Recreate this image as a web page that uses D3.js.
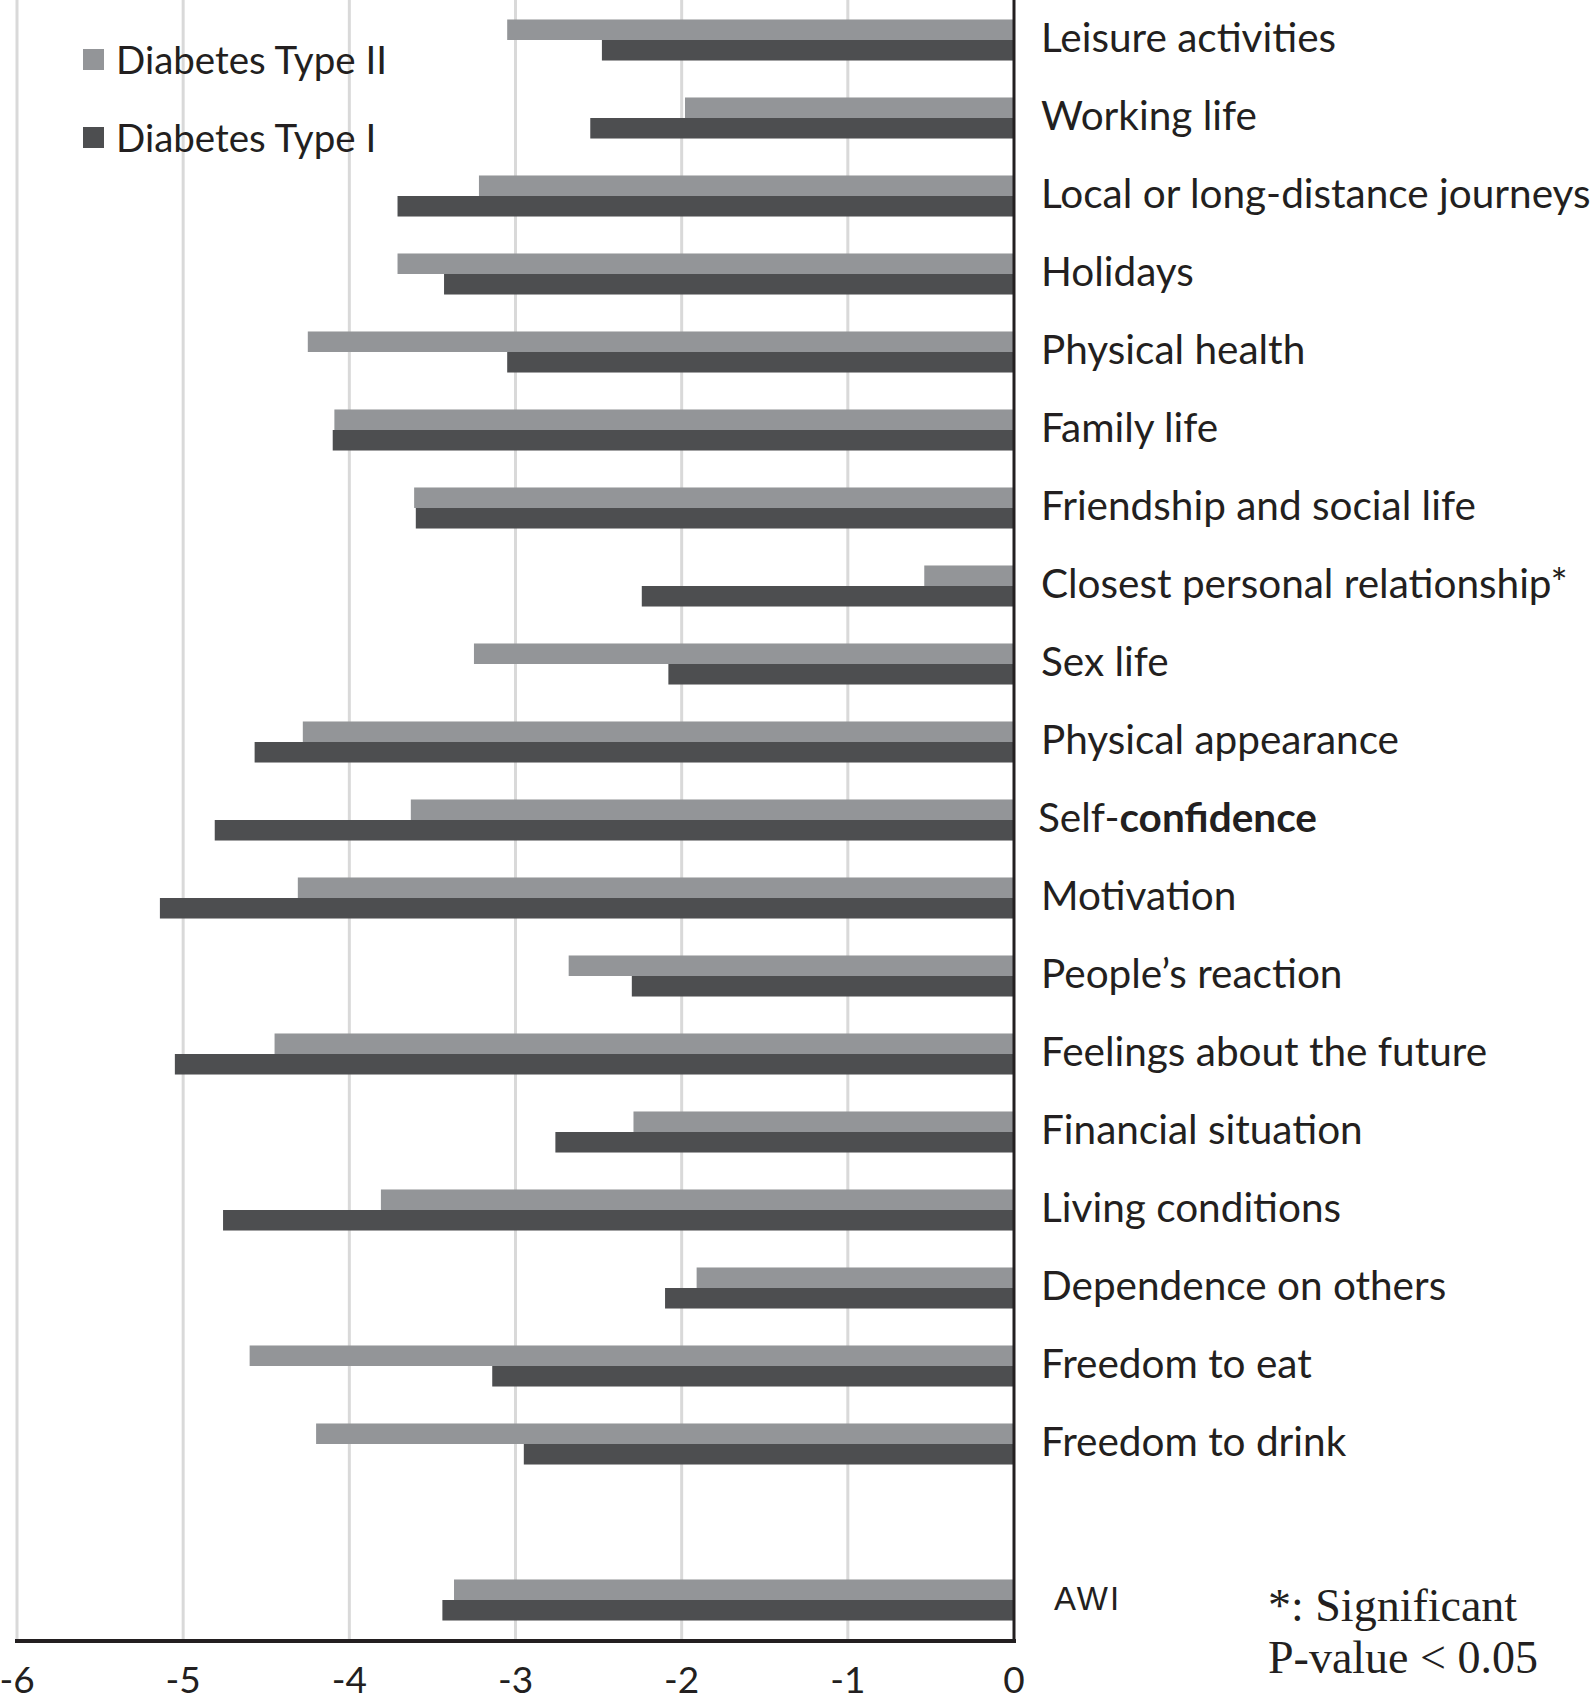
<!DOCTYPE html>
<html><head><meta charset="utf-8">
<script src="https://cdn.jsdelivr.net/npm/d3@7"></script>
<style>body{margin:0;background:#fff}svg{display:block}</style>
</head><body>
<script>
const categories = ["Leisure activities","Working life","Local or long-distance journeys","Holidays","Physical health","Family life","Friendship and social life","Closest personal relationship*","Sex life","Physical appearance","Self-confidence","Motivation","People\u2019s reaction","Feelings about the future","Financial situation","Living conditions","Dependence on others","Freedom to eat","Freedom to drink","","AWI"];
const type2 = [-3.05,-1.98,-3.22,-3.71,-4.25,-4.09,-3.61,-0.54,-3.25,-4.28,-3.63,-4.31,-2.68,-4.45,-2.29,-3.81,-1.91,-4.60,-4.20,null,-3.37];
const type1 = [-2.48,-2.55,-3.71,-3.43,-3.05,-4.10,-3.60,-2.24,-2.08,-4.57,-4.81,-5.14,-2.30,-5.05,-2.76,-4.76,-2.10,-3.14,-2.95,null,-3.44];
const xTicks = [-6,-5,-4,-3,-2,-1,0];
const seriesNames = ["Diabetes Type II","Diabetes Type I"];
const colors = ["#939598","#4d4e50"];

const W=1594,H=1706;
const svg=d3.select("body").append("svg").attr("width",W).attr("height",H);
const x=d3.scaleLinear().domain([-6,0]).range([17,1014]);
const y=d3.scaleBand().domain(d3.range(categories.length)).range([1,1639]).paddingInner(0.474).paddingOuter(0.237);
const bh=y.bandwidth()/2;
const labelFont="Lato, 'Open Sans', sans-serif";

// gridlines
svg.append("g").selectAll("line").data(xTicks.filter(d=>d<0)).join("line")
  .attr("x1",d=>x(d)).attr("x2",d=>x(d)).attr("y1",0).attr("y2",1640)
  .attr("stroke","#d9d9d9").attr("stroke-width",3);

// bars
const data=categories.map((c,i)=>({i,c,v2:type2[i],v1:type1[i]}));
svg.append("g").selectAll("rect").data(data.filter(d=>d.v2!=null)).join("rect")
  .attr("x",d=>x(d.v2)).attr("width",d=>x(0)-x(d.v2))
  .attr("y",d=>y(d.i)).attr("height",bh).attr("fill",colors[0]);
svg.append("g").selectAll("rect").data(data.filter(d=>d.v1!=null)).join("rect")
  .attr("x",d=>x(d.v1)).attr("width",d=>x(0)-x(d.v1))
  .attr("y",d=>y(d.i)+bh).attr("height",bh).attr("fill",colors[1]);

// axes lines
svg.append("line").attr("x1",x(0)).attr("x2",x(0)).attr("y1",0).attr("y2",1642)
  .attr("stroke","#231f20").attr("stroke-width",3);
svg.append("line").attr("x1",15).attr("x2",x(0)+2).attr("y1",1641).attr("y2",1641)
  .attr("stroke","#231f20").attr("stroke-width",4);

// x tick labels
svg.append("g").selectAll("text").data(xTicks).join("text")
  .attr("x",d=>x(d)).attr("y",1678).attr("text-anchor","middle").attr("dominant-baseline","central")
  .attr("font-family",labelFont).attr("font-size",37).attr("fill","#231f20")
  .text(d=>d);

// category labels
const lab=svg.append("g");
data.forEach(d=>{
  if(d.c===""||d.c==="AWI") return;
  const t=lab.append("text").attr("x",d.c==="Self-confidence"?1038:1041).attr("y",y(d.i)+y.bandwidth()/2-4)
    .attr("dominant-baseline","central").attr("font-family",labelFont).attr("font-size",40.5).attr("fill","#231f20");
  if(d.c==="Self-confidence"){
    t.append("tspan").text("Self-");
    t.append("tspan").attr("font-weight",700).text("confidence");
  } else t.text(d.c);
});
const awi=data.find(d=>d.c==="AWI");
svg.append("text").attr("x",1054).attr("y",y(awi.i)+y.bandwidth()/2-2).attr("dominant-baseline","central")
  .attr("font-family","'Liberation Sans', Arial, sans-serif").attr("font-size",33).attr("letter-spacing",2).attr("fill","#231f20").text("AWI");

// legend
seriesNames.forEach((n,i)=>{
  const cy=60+i*78;
  svg.append("rect").attr("x",83).attr("y",cy-11).attr("width",21).attr("height",21).attr("fill",colors[i]);
  svg.append("text").attr("x",116).attr("y",cy-1).attr("dominant-baseline","central")
    .attr("font-family",labelFont).attr("font-size",38.5).attr("fill","#231f20").text(n);
});

// note
svg.append("text").attr("x",1268).attr("y",1621).attr("font-family","'Liberation Serif','Times New Roman',serif")
  .attr("font-size",46).attr("fill","#231f20").text("*: Significant");
svg.append("text").attr("x",1268).attr("y",1673).attr("font-family","'Liberation Serif','Times New Roman',serif")
  .attr("font-size",46).attr("fill","#231f20").text("P-value < 0.05");
</script>
</body></html>
